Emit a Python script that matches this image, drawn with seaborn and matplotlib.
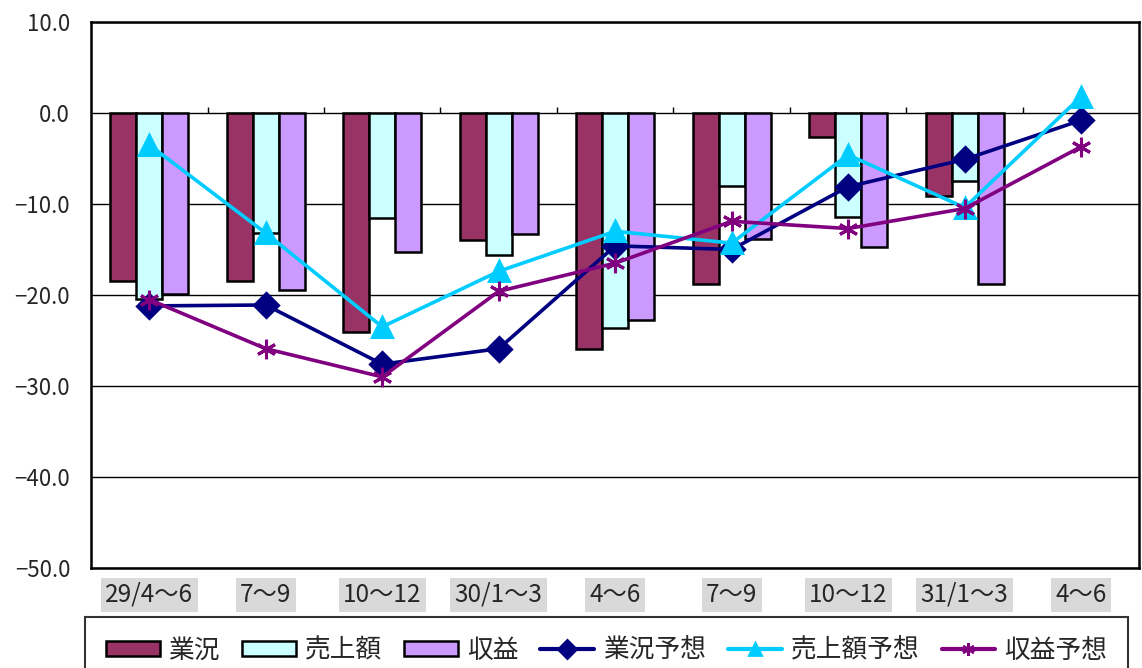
import numpy as np
import pandas as pd
import seaborn as sns
import matplotlib.pyplot as plt
from matplotlib.patches import Patch
from matplotlib.lines import Line2D

# quarters (H29/4-6 .. H31/4-6)
periods = ['29/4～6', '7～9', '10～12', '30/1～3', '4～6', '7～9', '10～12', '31/1～3', '4～6']

# actual DI values (bars) - no actual values for the last quarter
gyokyo = [-18.5, -18.5, -24.1, -14.0, -25.9, -18.8, -2.6, -9.1, np.nan]
uriage = [-20.4, -13.2, -11.5, -15.6, -23.6, -8.0, -11.4, -7.5, np.nan]
shueki = [-19.9, -19.5, -15.3, -13.3, -22.8, -13.9, -14.7, -18.8, np.nan]

# forecast DI values (lines)
gyokyo_f = [-21.2, -21.1, -27.6, -25.9, -14.6, -15.0, -8.1, -5.1, -0.8]
uriage_f = [-3.5, -13.2, -23.5, -17.4, -13.0, -14.3, -4.6, -10.4, 1.8]
shueki_f = [-20.5, -25.9, -29.0, -19.6, -16.5, -11.9, -12.7, -10.5, -3.7]

bar_names = ['業況', '売上額', '収益']
line_names = ['業況予想', '売上額予想', '収益予想']
y_ticks = [10, 0, -10, -20, -30, -40, -50]

bar_colors = ['#993366', '#CCFFFF', '#CC99FF']
line_colors = ['#000080', '#00CCFF', '#800080']
line_markers = ['D', '^', (6, 2, 0)]
marker_sizes = [12, 15, 14]

sns.set_style('white')
plt.rcParams['font.family'] = ['Noto Sans CJK JP', 'DejaVu Sans']

pos = list(range(len(periods)))

# long table for the grouped bars
bars = pd.DataFrame({
    'pos': pos * 3,
    'series': [n for n in bar_names for _ in pos],
    'value': gyokyo + uriage + shueki,
})

fig = plt.figure(figsize=(11.42, 6.68), dpi=100)
ax = fig.add_axes([0.0797, 0.1497, 0.918, 0.8174])

sns.barplot(data=bars, x='pos', y='value', hue='series', hue_order=bar_names,
            order=pos, palette=bar_colors, saturation=1, width=0.67,
            edgecolor='black', linewidth=1.8, errorbar=None, legend=False,
            ax=ax, zorder=2)

for vals, c, m, ms in zip([gyokyo_f, uriage_f, shueki_f], line_colors,
                          line_markers, marker_sizes):
    sns.lineplot(x=pos, y=vals, color=c, marker=m, markersize=ms,
                 markeredgecolor=c, markeredgewidth=2.2, linewidth=2.6,
                 ax=ax, zorder=3)

# axis setup
ax.set_xlim(-0.5, len(periods) - 0.5)
ax.set_ylim(-50, 10)
ax.set_yticks(y_ticks)
ax.set_yticklabels([f'{v:.1f}'.replace('-', '\u2212') for v in y_ticks], fontsize=16)
ax.set_xticks(pos)
ax.set_xticklabels(periods, fontsize=17.5)
ax.set_xlabel('')
ax.set_ylabel('')
ax.tick_params(axis='y', length=0, pad=15)
ax.tick_params(axis='x', length=0, pad=10)
for lab in ax.get_xticklabels():
    lab.set_bbox(dict(boxstyle='square,pad=0.18', facecolor='#d9d9d9', edgecolor='none'))

ax.yaxis.grid(True, color='black', linewidth=1)
ax.set_axisbelow(True)
for s in ax.spines.values():
    s.set_color('black')
    s.set_linewidth(1.8)

# category tick marks on the zero line
ax.vlines(np.arange(0.5, len(periods) - 0.5, 1), 0, 0.7, color='black', linewidth=1)

handles = [Patch(facecolor=c, edgecolor='black', linewidth=1.8, label=n)
           for c, n in zip(bar_colors, bar_names)]
handles += [Line2D([], [], color=c, marker=m, markersize=9, markeredgecolor=c,
                   markeredgewidth=2, linewidth=3, label=n)
            for c, m, n in zip(line_colors, line_markers, line_names)]

leg = fig.legend(handles=handles, loc='upper left', ncol=6,
                 bbox_to_anchor=(85 / 1142, 51 / 668), fontsize=18.5,
                 frameon=True, fancybox=False, edgecolor='black',
                 handlelength=2.1, handleheight=0.55, handletextpad=0.35,
                 borderpad=0.8, columnspacing=0.85, borderaxespad=0)
leg.get_frame().set_linewidth(1.5)

fig.savefig('out.png', dpi=100)
